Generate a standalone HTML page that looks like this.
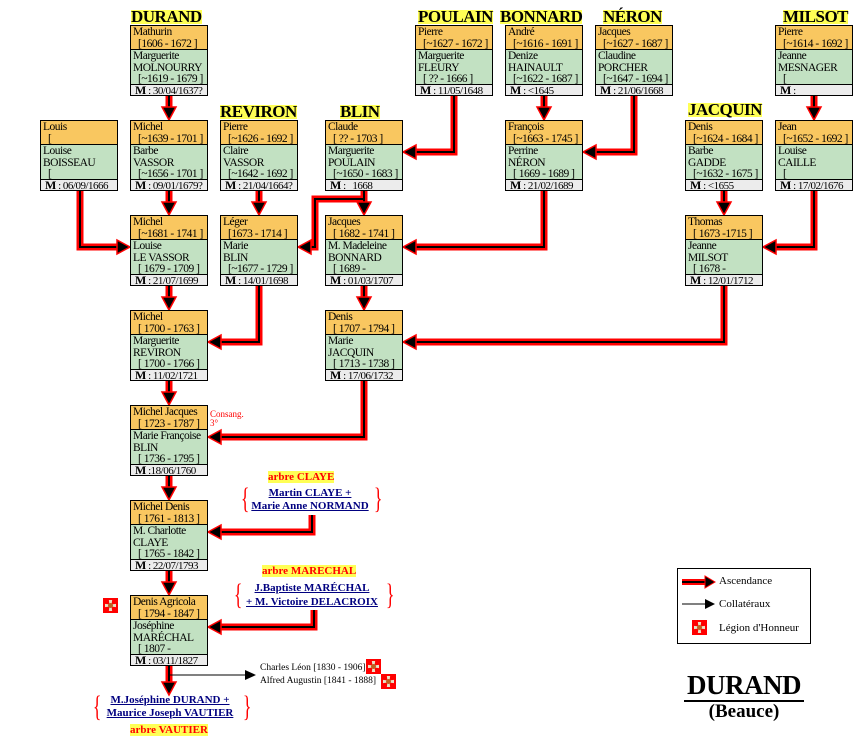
<!DOCTYPE html>
<html><head><meta charset="utf-8"><style>
*{margin:0;padding:0;box-sizing:border-box}
body{width:861px;height:745px;background:#fff;position:relative;overflow:hidden;font-family:"Liberation Serif",serif;color:#000}
.b{position:absolute;width:78px;height:71px;border:1px solid #000;font-size:11.5px;line-height:11.5px;background:#c2e1c2;white-space:nowrap;overflow:hidden;letter-spacing:-0.5px}
.h{height:24px;background:#f9c760;border-bottom:1px solid #000;padding:0 0 0 2px;line-height:12px}
.g{height:35px;padding:1px 0 0 2px;border-bottom:1px solid #000}
.m{height:10px;background:#ececec;font-size:11px;line-height:10px;padding-left:4px}
.m b{font-size:12px}
.i{padding-left:5px}
.f{position:absolute;font-weight:bold;font-size:17px;line-height:14px;background:#ffff55;letter-spacing:-0.5px}
.t{position:absolute;font-weight:bold;font-size:11px;white-space:nowrap;text-align:center}
.a{background:#ffff55;color:#f00}
.u{color:#000080;text-decoration:underline}
.br{position:absolute;color:#f00;font-size:30px;line-height:28px;transform:scaleX(0.6)}
.ic{position:absolute;width:15px;height:15px;background:#f00}
.ic:before{content:"";position:absolute;left:2px;top:2px;width:11px;height:11px;background:#e8e2c8;clip-path:polygon(35% 0,65% 0,60% 40%,100% 35%,100% 65%,60% 60%,65% 100%,35% 100%,40% 60%,0 65%,0 35%,40% 40%)}
.ic:after{content:"";position:absolute;left:5px;top:5px;width:5px;height:5px;background:#c06020;border-radius:50%}
</style></head><body>
<svg width="861" height="745" style="position:absolute;left:0;top:0">
<g fill="none" stroke-linejoin="miter">
<g stroke="#f00" stroke-width="7">
<path d="M169 96V108M169 191V203M169 286V298M169 381V393M169 476V488M169 571V583M169 666V683"/>
<path d="M259 191V203M364 191V203M364 286V298M544 96V108M724 191V203M814 96V108"/>
<path d="M80 191V247H118M454 96V152H415M634 96V152H595M544 191V247H415M364 199H315V247H310M814 191V247H775M724 286V342H415M259 286V342H220M364 381V437H220M312 515V532H220M314 610V627H220"/>
</g>
<g stroke="#000" stroke-width="2">
<path d="M169 96V108M169 191V203M169 286V298M169 381V393M169 476V488M169 571V583M169 666V683"/>
<path d="M259 191V203M364 191V203M364 286V298M544 96V108M724 191V203M814 96V108"/>
<path d="M80 191V247H118M454 96V152H415M634 96V152H595M544 191V247H415M364 199H315V247H310M814 191V247H775M724 286V342H415M259 286V342H220M364 381V437H220M312 515V532H220M314 610V627H220"/>
</g>
</g>
<g fill="#000" stroke="#f00" stroke-width="1.5">
<polygon points="162,107 176,107 169,120"/>
<polygon points="162,202 176,202 169,215"/><polygon points="162,297 176,297 169,310"/>
<polygon points="162,392 176,392 169,405"/><polygon points="162,487 176,487 169,500"/>
<polygon points="162,582 176,582 169,595"/><polygon points="162,682 176,682 169,695"/>
<polygon points="252,202 266,202 259,215"/><polygon points="357,202 371,202 364,215"/>
<polygon points="357,297 371,297 364,310"/><polygon points="537,107 551,107 544,120"/>
<polygon points="717,202 731,202 724,215"/><polygon points="807,107 821,107 814,120"/>
<polygon points="117,240 117,254 130,247"/>
<polygon points="416,145 416,159 403,152"/><polygon points="596,145 596,159 583,152"/>
<polygon points="416,240 416,254 403,247"/><polygon points="311,240 311,254 298,247"/>
<polygon points="776,240 776,254 763,247"/><polygon points="416,335 416,349 403,342"/>
<polygon points="221,335 221,349 208,342"/><polygon points="221,430 221,444 208,437"/>
<polygon points="221,525 221,539 208,532"/><polygon points="221,620 221,634 208,627"/>
</g>
<path d="M169 675H245" stroke="#000" stroke-width="1"/>
<polygon points="245,670 245,680 256,675" fill="#000"/>
<rect x="677.5" y="568.5" width="133" height="75" fill="none" stroke="#000"/>
<path d="M682 582H707" stroke="#f00" stroke-width="6"/><path d="M682 582H707" stroke="#000" stroke-width="2"/>
<polygon points="705,576 705,588 715,582" fill="#000" stroke="#f00"/>
<path d="M682 604H706" stroke="#000" stroke-width="1"/><polygon points="705,599 705,609 715,604" fill="#000"/>
</svg>

<div class="f" style="left:131px;top:10px">DURAND</div>
<div class="f" style="left:418px;top:10px">POULAIN</div>
<div class="f" style="left:500px;top:10px">BONNARD</div>
<div class="f" style="left:603px;top:10px">NÉRON</div>
<div class="f" style="left:783px;top:10px">MILSOT</div>
<div class="f" style="left:220px;top:105px">REVIRON</div>
<div class="f" style="left:340px;top:105px">BLIN</div>
<div class="f" style="left:688px;top:103px">JACQUIN</div>

<div class="b" style="left:130px;top:25px"><div class="h">Mathurin<div class="i">[1606 - 1672 ]</div></div><div class="g">Marguerite<br>MOLNOURRY<div class="i">[~1619 - 1679 ]</div></div><div class="m"><b>M</b> : 30/04/1637?</div></div>
<div class="b" style="left:415px;top:25px"><div class="h">Pierre<div class="i">[~1627 - 1672 ]</div></div><div class="g">Marguerite<br>FLEURY<div class="i">[ ?? - 1666 ]</div></div><div class="m"><b>M</b> : 11/05/1648</div></div>
<div class="b" style="left:505px;top:25px"><div class="h">André<div class="i">[~1616 - 1691 ]</div></div><div class="g">Denize<br>HAINAULT<div class="i">[~1622 - 1687 ]</div></div><div class="m"><b>M</b> : &lt;1645</div></div>
<div class="b" style="left:595px;top:25px"><div class="h">Jacques<div class="i">[~1627 - 1687 ]</div></div><div class="g">Claudine<br>PORCHER<div class="i">[~1647 - 1694 ]</div></div><div class="m"><b>M</b> : 21/06/1668</div></div>
<div class="b" style="left:775px;top:25px"><div class="h">Pierre<div class="i">[~1614 - 1692 ]</div></div><div class="g">Jeanne<br>MESNAGER<div class="i">[</div></div><div class="m"><b>M</b> :</div></div>

<div class="b" style="left:40px;top:120px"><div class="h">Louis<div class="i">[</div></div><div class="g">Louise<br>BOISSEAU<div class="i">[</div></div><div class="m"><b>M</b> : 06/09/1666</div></div>
<div class="b" style="left:130px;top:120px"><div class="h">Michel<div class="i">[~1639 - 1701 ]</div></div><div class="g">Barbe<br>VASSOR<div class="i">[~1656 - 1701 ]</div></div><div class="m"><b>M</b> : 09/01/1679?</div></div>
<div class="b" style="left:220px;top:120px"><div class="h">Pierre<div class="i">[~1626 - 1692 ]</div></div><div class="g">Claire<br>VASSOR<div class="i">[~1642 - 1692 ]</div></div><div class="m"><b>M</b> : 21/04/1664?</div></div>
<div class="b" style="left:325px;top:120px"><div class="h">Claude<div class="i">[ ?? - 1703 ]</div></div><div class="g">Marguerite<br>POULAIN<div class="i">[~1650 - 1683 ]</div></div><div class="m"><b>M</b> : &nbsp; 1668</div></div>
<div class="b" style="left:505px;top:120px"><div class="h">François<div class="i">[~1663 - 1745 ]</div></div><div class="g">Perrine<br>NÉRON<div class="i">[ 1669 - 1689 ]</div></div><div class="m"><b>M</b> : 21/02/1689</div></div>
<div class="b" style="left:685px;top:120px"><div class="h">Denis<div class="i">[~1624 - 1684 ]</div></div><div class="g">Barbe<br>GADDE<div class="i">[~1632 - 1675 ]</div></div><div class="m"><b>M</b> : &lt;1655</div></div>
<div class="b" style="left:775px;top:120px"><div class="h">Jean<div class="i">[~1652 - 1692 ]</div></div><div class="g">Louise<br>CAILLE<div class="i">[</div></div><div class="m"><b>M</b> : 17/02/1676</div></div>

<div class="b" style="left:130px;top:215px"><div class="h">Michel<div class="i">[~1681 - 1741 ]</div></div><div class="g">Louise<br>LE VASSOR<div class="i">[ 1679 - 1709 ]</div></div><div class="m"><b>M</b> : 21/07/1699</div></div>
<div class="b" style="left:220px;top:215px"><div class="h">Léger<div class="i">[1673 - 1714 ]</div></div><div class="g">Marie<br>BLIN<div class="i">[~1677 - 1729 ]</div></div><div class="m"><b>M</b> : 14/01/1698</div></div>
<div class="b" style="left:325px;top:215px"><div class="h">Jacques<div class="i">[ 1682 - 1741 ]</div></div><div class="g">M. Madeleine<br>BONNARD<div class="i">[ 1689 -</div></div><div class="m"><b>M</b> : 01/03/1707</div></div>
<div class="b" style="left:685px;top:215px"><div class="h">Thomas<div class="i">[ 1673 -1715 ]</div></div><div class="g">Jeanne<br>MILSOT<div class="i">[ 1678 -</div></div><div class="m"><b>M</b> : 12/01/1712</div></div>

<div class="b" style="left:130px;top:310px"><div class="h">Michel<div class="i">[ 1700 - 1763 ]</div></div><div class="g">Marguerite<br>REVIRON<div class="i">[ 1700 - 1766 ]</div></div><div class="m"><b>M</b> : 11/02/1721</div></div>
<div class="b" style="left:325px;top:310px"><div class="h">Denis<div class="i">[ 1707 - 1794 ]</div></div><div class="g">Marie<br>JACQUIN<div class="i">[ 1713 - 1738 ]</div></div><div class="m"><b>M</b> : 17/06/1732</div></div>
<div class="b" style="left:130px;top:405px"><div class="h">Michel Jacques<div class="i">[ 1723 - 1787 ]</div></div><div class="g">Marie Françoise<br>BLIN<div class="i">[ 1736 - 1795 ]</div></div><div class="m"><b>M</b> :18/06/1760</div></div>
<div class="b" style="left:130px;top:500px"><div class="h">Michel Denis<div class="i">[ 1761 - 1813 ]</div></div><div class="g">M. Charlotte<br>CLAYE<div class="i">[ 1765 - 1842 ]</div></div><div class="m"><b>M</b> : 22/07/1793</div></div>
<div class="b" style="left:130px;top:595px"><div class="h">Denis Agricola<div class="i">[ 1794 - 1847 ]</div></div><div class="g">Joséphine<br>MARÉCHAL<div class="i">[ 1807 -</div></div><div class="m"><b>M</b> : 03/11/1827</div></div>

<div style="position:absolute;left:210px;top:410px;color:#f00;font-size:9px;line-height:9px">Consang.<br>3°</div>

<div class="t" style="left:268px;top:472px;line-height:11px"><span class="a">arbre CLAYE</span></div>
<div class="t u" style="left:248px;top:487px;width:124px;line-height:13px">Martin CLAYE +<br>Marie Anne NORMAND</div>
<div class="br" style="left:238px;top:485px">{</div><div class="br" style="left:371px;top:485px">}</div>

<div class="t" style="left:262px;top:566px;line-height:11px"><span class="a">arbre MARECHAL</span></div>
<div class="t u" style="left:240px;top:581px;width:144px;line-height:14px">J.Baptiste MARÉCHAL<br>+ M. Victoire DELACROIX</div>
<div class="br" style="left:231px;top:581px">{</div><div class="br" style="left:383px;top:581px">}</div>

<div class="t u" style="left:100px;top:694px;width:140px;line-height:13px">M.Joséphine DURAND +<br>Maurice Joseph VAUTIER</div>
<div class="br" style="left:90px;top:693px">{</div><div class="br" style="left:240px;top:693px">}</div>
<div class="t" style="left:130px;top:725px;line-height:11px"><span class="a">arbre VAUTIER</span></div>

<div style="position:absolute;left:260px;top:662px;font-size:9.5px;line-height:13px;white-space:nowrap">Charles Léon [1830 - 1906]<br>Alfred Augustin [1841 - 1888]</div>
<div class="ic" style="left:103px;top:598px"></div>
<div class="ic" style="left:366px;top:659px"></div>
<div class="ic" style="left:381px;top:674px"></div>
<div class="ic" style="left:692px;top:620px"></div>

<div style="position:absolute;left:719px;top:575px;font-size:11px">Ascendance</div>
<div style="position:absolute;left:719px;top:598px;font-size:11px">Collatéraux</div>
<div style="position:absolute;left:719px;top:622px;font-size:11px">Légion d'Honneur</div>

<div style="position:absolute;left:684px;top:670px;width:120px;text-align:center;font-weight:bold;font-size:27px;line-height:30px;border-bottom:2px solid #000;letter-spacing:-0.5px">DURAND</div>
<div style="position:absolute;left:684px;top:702px;width:120px;text-align:center;font-weight:bold;font-size:19px;line-height:20px">(Beauce)</div>
</body></html>
